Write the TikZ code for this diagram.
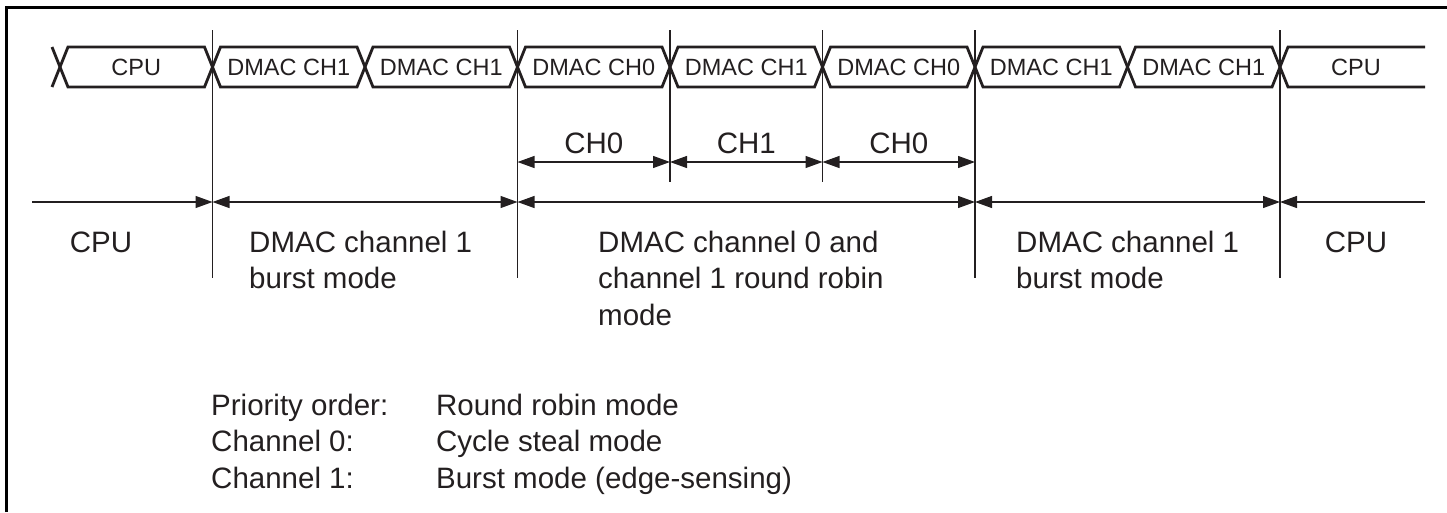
\documentclass[tikz,border=0pt]{standalone}
\usepackage{fontspec}
\setmainfont{Liberation Sans}
\usetikzlibrary{arrows.meta}
\definecolor{ink}{HTML}{231F20}
\begin{document}
\begin{tikzpicture}[x=1pt,y=-1pt,color=ink,
  frameline/.style={draw=black,line width=3pt},
  busline/.style={line width=2.8pt,line join=miter},
  tickline/.style={line width=1.2pt},
  dimline/.style={line width=1.2pt},
  tipped/.style={-{Triangle[length=17pt,width=12pt]}},
  bothtipped/.style={{Triangle[length=17pt,width=12pt]}-{Triangle[length=17pt,width=12pt]}},
  buslabel/.style={text=ink,font=\fontsize{23.5}{28}\selectfont,inner sep=0pt},
  biglabel/.style={text=ink,font=\fontsize{29.5}{36.5}\selectfont,inner sep=0pt},
]
\useasboundingbox (0,0) rectangle (1447,512);
% frame (cropped figure: left and top edges only)
\draw[frameline] (6.5,512) -- (6.5,7.5) -- (1447,7.5);

% bus segments
\foreach \a/\b [count=\i] in {60/212.5,212.5/365,365/517.5,517.5/670,670/822.5,822.5/975,975/1127.5,1127.5/1280}{
  \draw[busline] (\a,67) -- (\a+8,47) -- (\b-8,47) -- (\b,67) -- (\b-8,87) -- (\a+8,87) -- cycle;
}
\draw[busline] (52,47) -- (60,67) -- (52,87);
\draw[busline] (1425,47) -- (1288,47) -- (1280,67) -- (1288,87) -- (1425,87);

% bus labels
\node[buslabel] (b1) at (136.25,67) {CPU};
\node[buslabel] (b2) at (288.75,67) {DMAC CH1};
\node[buslabel] (b3) at (441.25,67) {DMAC CH1};
\node[buslabel] (b4) at (593.75,67) {DMAC CH0};
\node[buslabel] (b5) at (746.25,67) {DMAC CH1};
\node[buslabel] (b6) at (898.75,67) {DMAC CH0};
\node[buslabel] (b7) at (1051.25,67) {DMAC CH1};
\node[buslabel] (b8) at (1203.75,67) {DMAC CH1};
\node[buslabel] (b9) at (1356,67) {CPU};

% vertical tick lines
\coordinate (t1) at (212.5,30);  \coordinate (u1) at (212.5,278);
\coordinate (t2) at (517.5,30);  \coordinate (u2) at (517.5,278);
\coordinate (t3) at (670,30);    \coordinate (u3) at (670,182);
\coordinate (t4) at (822.5,30);  \coordinate (u4) at (822.5,182);
\coordinate (t5) at (975,30);    \coordinate (u5) at (975,278);
\coordinate (t6) at (1280,30);   \coordinate (u6) at (1280,278);
\foreach \k in {1,...,6}{\draw[tickline] (t\k) -- (u\k);}

% upper dimension row
\coordinate (d0) at (517.5,162);
\coordinate (d1) at (670,162);
\coordinate (d2) at (822.5,162);
\coordinate (d3) at (975,162);
\draw[dimline,bothtipped] (d0) -- (d1);
\draw[dimline,bothtipped] (d1) -- (d2);
\draw[dimline,bothtipped] (d2) -- (d3);
\node[biglabel,anchor=base] (c0) at (593.75,153) {CH0};
\node[biglabel,anchor=base] (c1) at (746.25,153) {CH1};
\node[biglabel,anchor=base] (c2) at (898.75,153) {CH0};

% lower dimension row
\coordinate (e0) at (32,202);
\coordinate (e1) at (212.5,202);
\coordinate (e2) at (517.5,202);
\coordinate (e3) at (975,202);
\coordinate (e4) at (1280,202);
\coordinate (e5) at (1425,202);
\draw[dimline,tipped] (e0) -- (e1);
\draw[dimline,bothtipped] (e1) -- (e2);
\draw[dimline,bothtipped] (e2) -- (e3);
\draw[dimline,bothtipped] (e3) -- (e4);
\draw[dimline,tipped] (e5) -- (e4);

% phase labels
\node[biglabel,anchor=base] (p1) at (101,252) {CPU};
\node[biglabel,anchor=base west] (p2) at (249,252)
  {\begin{tabular}[t]{@{}l@{}}DMAC channel 1\\burst mode\end{tabular}};
\node[biglabel,anchor=base west] (p3) at (598,252)
  {\begin{tabular}[t]{@{}l@{}}DMAC channel 0 and\\channel 1 round robin\\mode\end{tabular}};
\node[biglabel,anchor=base west] (p4) at (1016,252)
  {\begin{tabular}[t]{@{}l@{}}DMAC channel 1\\burst mode\end{tabular}};
\node[biglabel,anchor=base] (p5) at (1356,252) {CPU};

% legend
\node[biglabel,anchor=base west] (legend) at (211,415)
  {\begin{tabular}[t]{@{}p{225pt}@{}l@{}}
   Priority order: & Round robin mode\\
   Channel 0: & Cycle steal mode\\
   Channel 1: & Burst mode (edge-sensing)
   \end{tabular}};
\end{tikzpicture}
\end{document}
